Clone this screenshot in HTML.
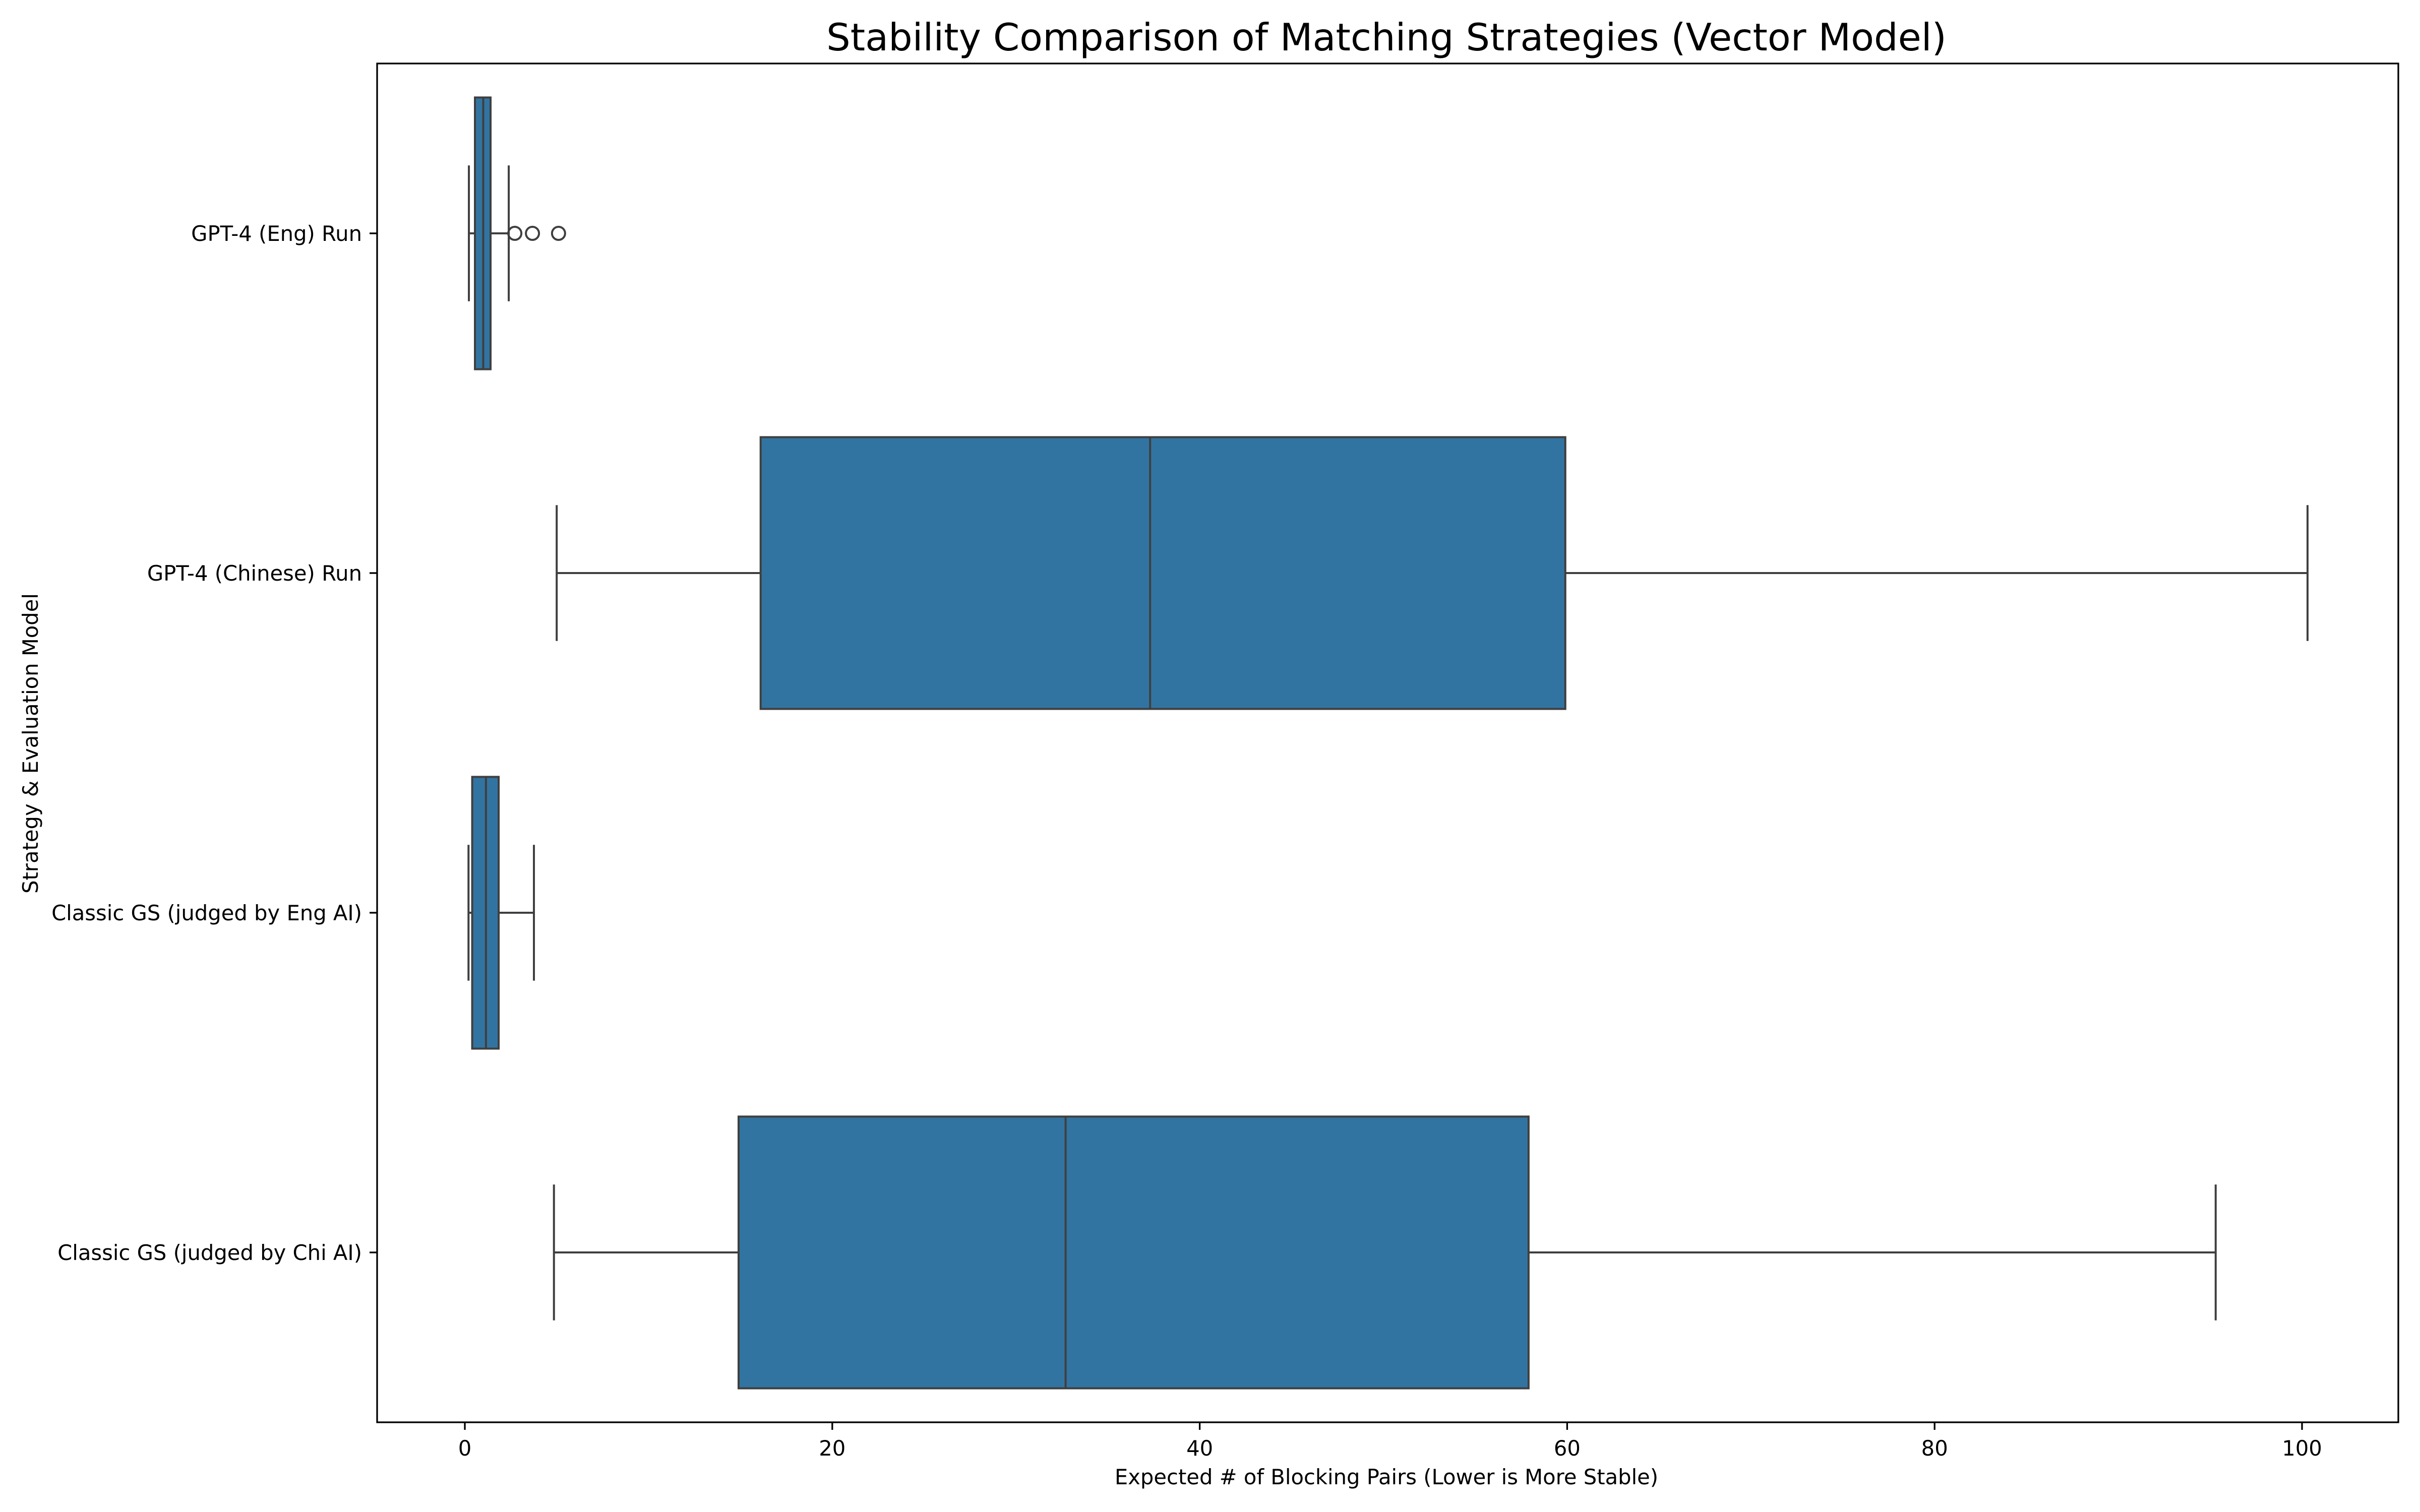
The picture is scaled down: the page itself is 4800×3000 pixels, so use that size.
<!DOCTYPE html>
<html><head><meta charset="utf-8"><style>
html,body{margin:0;padding:0;background:#fff;}
svg{display:block;font-family:"DejaVu Sans","Liberation Sans",sans-serif;}
</style></head><body>
<svg id="chart" width="4800" height="3000" viewBox="0 0 4800 3000" xmlns="http://www.w3.org/2000/svg">
<rect x="0" y="0" width="4800" height="3000" fill="#fff"/>
<text x="2750" y="100" font-size="75" text-anchor="middle" fill="#000">Stability Comparison of Matching Strategies (Vector Model)</text>
<g id="plot"></g>
<text x="2750" y="2945" font-size="41.7" text-anchor="middle" fill="#000">Expected # of Blocking Pairs (Lower is More Stable)</text>
<text transform="translate(75,1475) rotate(-90)" font-size="41.7" text-anchor="middle" fill="#000">Strategy &amp; Evaluation Model</text>
</svg>
<script>
const categories = ["GPT-4 (Eng) Run","GPT-4 (Chinese) Run","Classic GS (judged by Eng AI)","Classic GS (judged by Chi AI)"];
const whiskerLow = [0.22, 5.0, 0.2, 4.85];
const q1 = [0.55, 16.1, 0.4, 14.9];
const median = [1.0, 37.3, 1.15, 32.7];
const q3 = [1.4, 59.9, 1.84, 57.9];
const whiskerHigh = [2.39, 100.3, 3.76, 95.3];
const outliers = [[2.72, 3.68, 5.1], [], [], []];
const xTicks = [0, 20, 40, 60, 80, 100];
const xTickLabels = ["0","20","40","60","80","100"];

const L=748, R=4757, T=126, B=2822;
const x0=922, xPerUnit=36.44;
function xs(v){return x0+v*xPerUnit;}
const band=(B-T)/categories.length;
function yc(i){return T+band*(i+0.5);}
const NS="http://www.w3.org/2000/svg";
const g=document.getElementById('plot');
function mk(tag,attrs){const e=document.createElementNS(NS,tag);for(const k in attrs)e.setAttribute(k,attrs[k]);g.appendChild(e);return e;}
const LC="#3f3f3f", LW=4;
categories.forEach((c,i)=>{
  const y=yc(i), h=band*0.4, cap=band*0.2;
  let e;
  e=mk('line',{x1:xs(whiskerLow[i]),x2:xs(q1[i]),y1:y,y2:y,stroke:LC,'stroke-width':LW});
  
  
  e=mk('line',{x1:xs(q3[i]),x2:xs(whiskerHigh[i]),y1:y,y2:y,stroke:LC,'stroke-width':LW});
  
  
  e=mk('line',{x1:xs(whiskerLow[i]),x2:xs(whiskerLow[i]),y1:y-cap,y2:y+cap,stroke:LC,'stroke-width':LW});
  
  
  e=mk('line',{x1:xs(whiskerHigh[i]),x2:xs(whiskerHigh[i]),y1:y-cap,y2:y+cap,stroke:LC,'stroke-width':LW});
  
  
  e=mk('rect',{x:xs(q1[i]),y:y-h,width:xs(q3[i])-xs(q1[i]),height:2*h,fill:'#3274a1',stroke:LC,'stroke-width':LW});
  
  
  e=mk('line',{x1:xs(median[i]),x2:xs(median[i]),y1:y-h,y2:y+h,stroke:LC,'stroke-width':LW});
  
  
  outliers[i].forEach((v,j)=>{
    const o=mk('ellipse',{cx:xs(v),cy:y,rx:13,ry:13,fill:'none',stroke:LC,'stroke-width':LW});
    
    
  });
  e=mk('line',{x1:L-15,x2:L,y1:y,y2:y,stroke:'#000','stroke-width':3.3});
  
  
  e=mk('text',{x:L-30,y:y+15,'font-size':41.7,'text-anchor':'end',fill:'#000'});
  e.textContent=c;
  
  
});
xTicks.forEach((v,i)=>{
  let e=mk('line',{x1:xs(v),x2:xs(v),y1:B,y2:B+15,stroke:'#000','stroke-width':3.3});
  
  
  e=mk('text',{x:xs(v),y:B+66,'font-size':41.7,'text-anchor':'middle',fill:'#000'});
  e.textContent=xTickLabels[i];
  
  
});
const fr=mk('rect',{x:L,y:T,width:R-L,height:B-T,fill:'none',stroke:'#000','stroke-width':3.3});


</script>
</body></html>
